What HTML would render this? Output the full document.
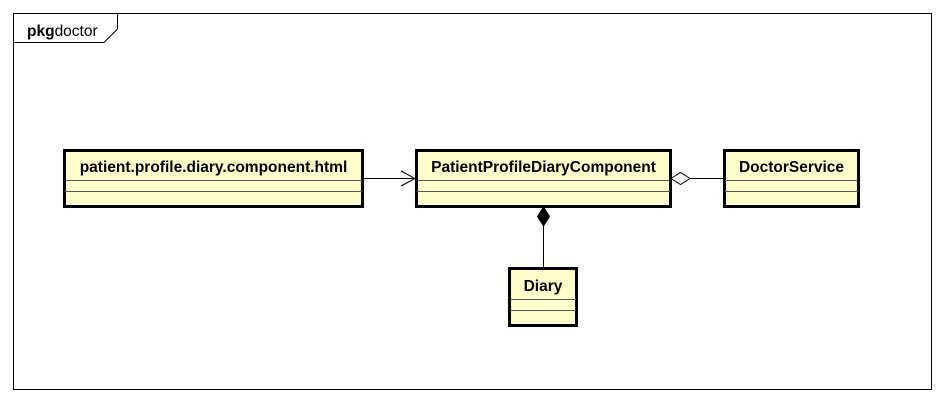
<!DOCTYPE html>
<html><head><meta charset="utf-8"><style>
html,body{margin:0;padding:0;background:#fff;}
svg{display:block;}
text{font-family:"Liberation Sans",Arial,sans-serif;}
</style></head><body>
<svg width="945" height="404" viewBox="0 0 945 404" xmlns="http://www.w3.org/2000/svg">
<rect x="0" y="0" width="945" height="404" fill="#fff"/>
<rect x="13.5" y="13.5" width="918" height="376" fill="none" stroke="#000" stroke-width="1"/>
<path d="M13.5 42.5 H104 L117.5 29 V13.5" fill="none" stroke="#000" stroke-width="1"/>
<text x="27" y="36" font-size="15.5" fill="#000"><tspan font-weight="bold">pkg</tspan><tspan>doctor</tspan></text>

<line x1="363" y1="178.5" x2="415" y2="178.5" stroke="#000" stroke-width="1"/>
<path d="M401 171 L415 178.5 L401 186" fill="none" stroke="#000" stroke-width="1"/>
<line x1="690" y1="178.5" x2="724" y2="178.5" stroke="#000" stroke-width="1"/>
<path d="M671 178.5 L680.5 172.5 L690 178.5 L680.5 184.5 Z" fill="#fff" stroke="#000" stroke-width="1"/>
<line x1="543.5" y1="226" x2="543.5" y2="268" stroke="#000" stroke-width="1"/>
<path d="M543.5 207 L549.5 216.5 L543.5 226 L537.5 216.5 Z" fill="#000" stroke="#000" stroke-width="1"/>

<g stroke="#000">
<rect x="64.5" y="150.5" width="298" height="56" fill="#ffffcc" stroke-width="3"/>
<line x1="65" y1="180.5" x2="362" y2="180.5" stroke="#555" stroke-width="1"/>
<line x1="65" y1="191.5" x2="362" y2="191.5" stroke="#555" stroke-width="1"/>

<rect x="416.5" y="150.5" width="254" height="56" fill="#ffffcc" stroke-width="3"/>
<line x1="417" y1="180.5" x2="670" y2="180.5" stroke="#555" stroke-width="1"/>
<line x1="417" y1="191.5" x2="670" y2="191.5" stroke="#555" stroke-width="1"/>

<rect x="724.5" y="150.5" width="134" height="56" fill="#ffffcc" stroke-width="3"/>
<line x1="725" y1="180.5" x2="858" y2="180.5" stroke="#555" stroke-width="1"/>
<line x1="725" y1="191.5" x2="858" y2="191.5" stroke="#555" stroke-width="1"/>

<rect x="509.5" y="268.5" width="67" height="57" fill="#ffffcc" stroke-width="3"/>
<line x1="510" y1="299.5" x2="576" y2="299.5" stroke="#555" stroke-width="1"/>
<line x1="510" y1="310.5" x2="576" y2="310.5" stroke="#555" stroke-width="1"/>
</g>
<g font-size="15.5" font-weight="bold" fill="#000" text-anchor="middle">
<text x="213.5" y="172">patient.profile.diary.component.html</text>
<text x="543.5" y="172">PatientProfileDiaryComponent</text>
<text x="791.5" y="172">DoctorService</text>
<text x="543" y="291">Diary</text>
</g>
</svg>
</body></html>
